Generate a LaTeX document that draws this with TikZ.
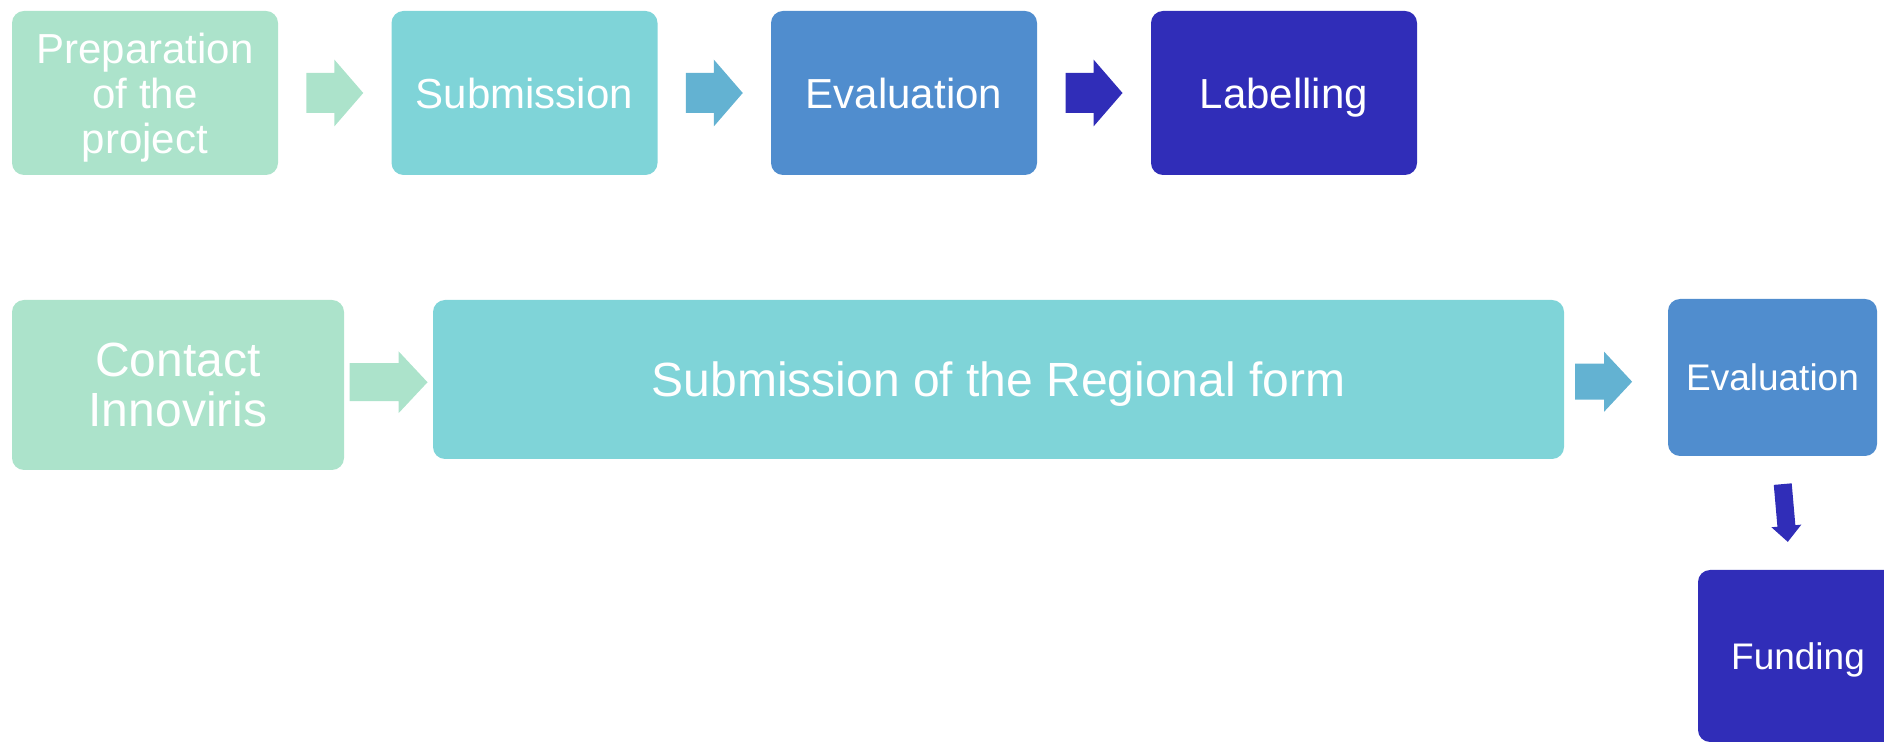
\documentclass[tikz,border=0pt]{standalone}
\usepackage{fontspec}
\setmainfont{Liberation Sans}
\usetikzlibrary{calc}

\definecolor{stepmint}{HTML}{ACE3CB}
\definecolor{stepteal}{HTML}{7FD4D8}
\definecolor{stepblue}{HTML}{508DCE}
\definecolor{stepnavy}{HTML}{302DB8}
\definecolor{steparrow}{HTML}{63B2D2}

\newcommand{\toprow}{\fontsize{21}{22.5}\selectfont}
\newcommand{\bigrow}{\fontsize{24}{25}\selectfont}
\newcommand{\smallrow}{\fontsize{18.5}{20}\selectfont}

\tikzset{
    stage/.style={fill=#1, rounded corners=6pt, text=white, align=center, inner sep=0pt, text depth=0pt},
    pics/blockarrow/.style n args={4}{code={
        \fill ({-#1/2},{-#2/2}) -- ({#1/2-#4},{-#2/2}) -- ({#1/2-#4},{-#3/2}) -- ({#1/2},0)
            -- ({#1/2-#4},{#3/2}) -- ({#1/2-#4},{#2/2}) -- ({-#1/2},{#2/2}) -- cycle;
    }}
}

\begin{document}
\begin{tikzpicture}[x=0.5pt, y=-0.5pt]
        \path[use as bounding box, clip] (0,0) rectangle (1884,742);
        % labelling route
        \foreach \name/\col/\x/\txt in {prep/stepmint/145/{Preparation\\of the\\project},
            sub/stepteal/524.5/Submission, eval/stepblue/904/Evaluation, label/stepnavy/1284/Labelling} {
            \node[stage=\col, minimum width=133pt, minimum height=82pt, font=\toprow] (\name) at (\x,93) {\txt};
        }
        \foreach \a/\b/\col in {prep/sub/stepmint, sub/eval/steparrow, eval/label/stepnavy}
            \pic[fill=\col] at ($(\a.east)!0.5!(\b.west)$) {blockarrow={57}{40}{67}{29}};
        % funding route
        \node[stage=stepmint, minimum width=166pt, minimum height=85pt, font=\bigrow] (contact) at (178,385) {Contact\\Innoviris};
        \node[stage=stepteal, minimum width=565.5pt, minimum height=79.5pt, font=\bigrow] (regional) at (998.5,379.5) {Submission of the Regional form};
        \node[stage=stepblue, minimum width=104.5pt, minimum height=78.5pt, font=\smallrow] (eval2) at (1772.5,377.5) {Evaluation};
        \node[stage=stepnavy, minimum width=100pt, minimum height=86pt, font=\smallrow] (funding) at (1798,656) {Funding};
        \pic[fill=stepmint] at ($(contact.east)!0.5!(regional.west)$) {blockarrow={78}{38}{62}{29}};
        \pic[fill=steparrow] at ($(regional.east)!0.38!(eval2.west)+(0,3)$) {blockarrow={57}{36}{60}{28}};
        \pic[fill=stepnavy, rotate=-85] at ($(eval2.south)!0.5!(funding.north)$) {blockarrow={58}{18}{30}{16}};
    \end{tikzpicture}
\end{document}
